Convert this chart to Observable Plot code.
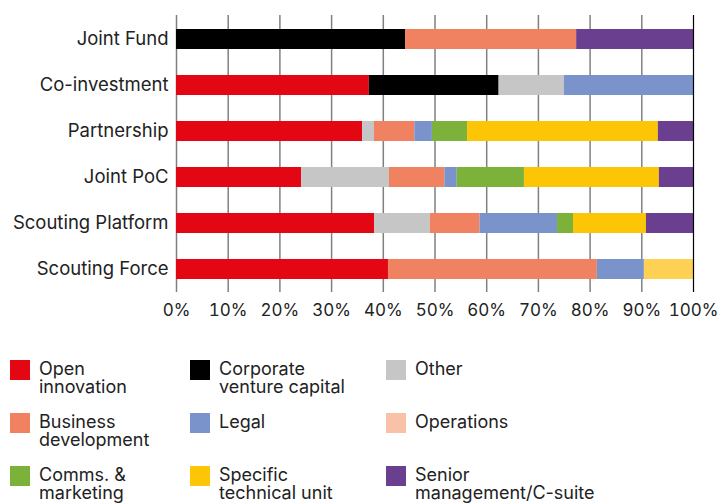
<!DOCTYPE html>
<html>
<head>
<meta charset="utf-8">
<script src="https://cdn.jsdelivr.net/npm/d3@7"></script>
<script src="https://cdn.jsdelivr.net/npm/@observablehq/plot@0.6"></script>
<style>
  body { margin: 0; background: #fff; font-family: Inter, "Noto Sans", sans-serif; color: #222; }
  #legend { position: relative; height: 143px; margin-top: 20px; overflow: visible; }
  .item { position: absolute; display: flex; align-items: flex-start; font-size: 18px; }
  .item .ln { display: block; height: 18px; line-height: 18px; white-space: nowrap; }
  .sw { width: 20px; height: 20px; margin-right: 9px; flex: none; }
</style>
</head>
<body>
<div id="chart"></div>
<div id="legend"></div>
<script>
const categories = ["Joint Fund", "Co-investment", "Partnership", "Joint PoC", "Scouting Platform", "Scouting Force"];
const seriesNames = ["Open innovation", "Corporate venture capital", "Other", "Business development", "Legal", "Operations", "Comms. & marketing", "Specific technical unit", "Specific technical unit (light)", "Senior management/C-suite"];
const seriesColors = ["#E30613", "#000000", "#C6C6C6", "#F08262", "#7A94CB", "#F9C1A8", "#7DB23A", "#FCC505", "#FED053", "#6A3F8F"];

const openInnovation   = [0, 37.3, 36.0, 24.2, 38.3, 41.0];
const corporateVC      = [44.3, 25.1, 0, 0, 0, 0];
const other            = [0, 12.6, 2.3, 17.0, 10.8, 0];
const businessDev      = [33.1, 0, 7.8, 10.7, 9.6, 40.4];
const legal            = [0, 25.0, 3.4, 2.4, 15.0, 9.1];
const operations       = [0, 0, 0, 0, 0, 0];
const commsMarketing   = [0, 0, 6.8, 13.0, 3.1, 0];
const specificTech     = [0, 0, 36.9, 26.1, 14.1, 0];
const specificTechLight= [0, 0, 0, 0, 0, 9.5];
const seniorMgmt       = [22.6, 0, 6.8, 6.6, 9.1, 0];

const xTicks = [0, 10, 20, 30, 40, 50, 60, 70, 80, 90, 100];

const legendItems = [
  ["Open innovation", ["Open", "innovation"]],
  ["Corporate venture capital", ["Corporate", "venture capital"]],
  ["Other", ["Other"]],
  ["Business development", ["Business", "development"]],
  ["Legal", ["Legal"]],
  ["Operations", ["Operations"]],
  ["Comms. & marketing", ["Comms. &", "marketing"]],
  ["Specific technical unit", ["Specific", "technical unit"]],
  ["Senior management/C-suite", ["Senior", "management/C-suite"]]
];

const seriesValues = [openInnovation, corporateVC, other, businessDev, legal, operations, commsMarketing, specificTech, specificTechLight, seniorMgmt];
const data = [];
seriesNames.forEach((s, i) => {
  categories.forEach((c, j) => {
    if (seriesValues[i][j] > 0) data.push({series: s, category: c, value: seriesValues[i][j]});
  });
});

const chart = Plot.plot({
  width: 719,
  height: 340,
  marginTop: 15,
  marginBottom: 48,
  marginLeft: 176,
  marginRight: 26,
  style: {fontFamily: "Inter, 'Noto Sans', sans-serif", fontSize: "18px", color: "#222", background: "#fff"},
  x: {domain: [0, 100], axis: null},
  y: {domain: categories, padding: 0.574, paddingOuter: 0.234, axis: null},
  color: {domain: seriesNames, range: seriesColors},
  marks: [
    Plot.ruleX(xTicks.filter(d => d < 100), {stroke: "#808080", strokeWidth: 1.5}),
    Plot.barX(data, {x: "value", y: "category", fill: "series", order: seriesNames}),
    Plot.ruleX([100], {stroke: "#000", strokeWidth: 1.2}),
    Plot.axisX(xTicks, {tickSize: 0, tickPadding: 11, tickFormat: d => d + "%", fontSize: 17, fill: "#222", label: null}),
    Plot.axisY({tickSize: 0, tickPadding: 8, fontSize: 18.5, fill: "#222", label: null})
  ]
});
document.getElementById("chart").appendChild(chart);

const legend = document.getElementById("legend");
const colX = [10, 190, 386];
const rowY = [0, 53, 106];
legendItems.forEach(([key, lines], i) => {
  const el = document.createElement("div");
  el.className = "item";
  el.style.left = colX[i % 3] + "px";
  el.style.top = rowY[Math.floor(i / 3)] + "px";
  const col = seriesColors[seriesNames.indexOf(key)];
  const sw = document.createElement("div");
  sw.className = "sw";
  sw.style.background = col;
  const txt = document.createElement("div");
  lines.forEach(t => {
    const ln = document.createElement("span");
    ln.className = "ln";
    ln.textContent = t;
    txt.appendChild(ln);
  });
  el.appendChild(sw);
  el.appendChild(txt);
  legend.appendChild(el);
});
</script>
</body>
</html>
